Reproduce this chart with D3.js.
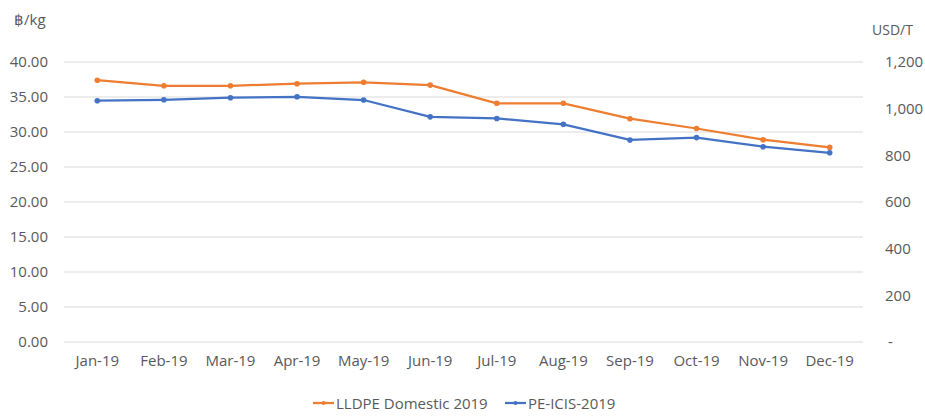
<!DOCTYPE html>
<html>
<head>
<meta charset="utf-8">
<script src="https://cdn.jsdelivr.net/npm/d3@7"></script>
<style>
  body { margin: 0; background: #fff; }
  text { font-family: "Open Sans", "Noto Sans", sans-serif; fill: #595959; }
</style>
</head>
<body>
<div id="chart"></div>
<script>
const months = ["Jan-19", "Feb-19", "Mar-19", "Apr-19", "May-19", "Jun-19",
    "Jul-19", "Aug-19", "Sep-19", "Oct-19", "Nov-19", "Dec-19"];
const lldpeValues = [37.4, 36.6, 36.6, 36.9, 37.1, 36.7, 34.1, 34.1, 31.9, 30.5, 28.9, 27.8];
const icisValues = [1034, 1038, 1047, 1051, 1037, 965, 958, 933, 866, 876, 837, 811];
const leftTicks = [0, 5, 10, 15, 20, 25, 30, 35, 40];
const rightTicks = [0, 200, 400, 600, 800, 1000, 1200];
const seriesNames = ["LLDPE Domestic 2019", "PE-ICIS-2019"];
const seriesColors = ["#ed7d31", "#4472c4"];

const W = 925, H = 416;
const margin = { top: 62, right: 62, bottom: 74, left: 64 };
const width = W - margin.left - margin.right,
    height = H - margin.top - margin.bottom;

const svg = d3.select("#chart").append("svg")
    .attr("width", W)
    .attr("height", H);

const g = svg.append("g")
    .attr("transform", `translate(${margin.left}, ${margin.top})`);

let x = d3.scaleBand()
    .domain(months)
    .range([0, width]);

let yLeft = d3.scaleLinear()
    .domain([0, 40])
    .range([height, 0]);

let yRight = d3.scaleLinear()
    .domain([0, 1200])
    .range([height, 0]);

// gridlines
g.append("g")
    .selectAll("line")
    .data(leftTicks)
    .join("line")
    .attr("x1", 0)
    .attr("x2", width)
    .attr("y1", d => yLeft(d))
    .attr("y2", d => yLeft(d))
    .attr("stroke", "#d9d9d9")
    .attr("stroke-width", 1);

// left axis
let leftAxis = g.append("g")
    .call(d3.axisLeft(yLeft).tickValues(leftTicks).tickFormat(d3.format(".2f")).tickSize(0).tickPadding(16));
leftAxis.select(".domain").remove();
leftAxis.selectAll("text").style("font-size", "15px");

// right axis
let rightAxis = g.append("g")
    .attr("transform", `translate(${width}, 0)`)
    .call(d3.axisRight(yRight).tickValues(rightTicks)
        .tickFormat(d => d === 0 ? "-" : d3.format(",")(d)).tickSize(0).tickPadding(22));
rightAxis.select(".domain").remove();
rightAxis.selectAll("text").style("font-size", "15px")
    .attr("dx", d => d === 0 ? 3 : 0);

// bottom axis
let bottomAxis = g.append("g")
    .attr("transform", `translate(0, ${height})`)
    .call(d3.axisBottom(x).tickSize(0).tickPadding(13));
bottomAxis.select(".domain").remove();
bottomAxis.selectAll("text").style("font-size", "15px");

// unit labels
svg.append("text")
    .attr("x", 14)
    .attr("y", 25)
    .style("font-size", "15px")
    .text("฿/kg");

svg.append("text")
    .attr("x", 872)
    .attr("y", 35)
    .style("font-size", "14px")
    .text("USD/T");

const cx = d => x(d) + x.bandwidth() / 2;

const seriesData = [
    months.map((m, i) => ({ m: m, y: yLeft(lldpeValues[i]) })),
    months.map((m, i) => ({ m: m, y: yRight(icisValues[i]) }))
];

seriesData.forEach((data, si) => {
    g.append("path")
        .datum(data)
        .attr("fill", "none")
        .attr("stroke", seriesColors[si])
        .attr("stroke-width", 2.25)
        .attr("stroke-linejoin", "round")
        .attr("d", d3.line().x(d => cx(d.m)).y(d => d.y));

    g.append("g")
        .selectAll("circle")
        .data(data)
        .join("circle")
        .attr("cx", d => cx(d.m))
        .attr("cy", d => d.y)
        .attr("r", 2.8)
        .attr("fill", seriesColors[si]);
});

// legend
const legendX = [313, 505];
const legend = svg.append("g");
seriesNames.forEach((name, i) => {
    legend.append("line")
        .attr("x1", legendX[i])
        .attr("x2", legendX[i] + 21)
        .attr("y1", 403)
        .attr("y2", 403)
        .attr("stroke", seriesColors[i])
        .attr("stroke-width", 2.25);
    legend.append("circle")
        .attr("cx", legendX[i] + 10.5)
        .attr("cy", 403)
        .attr("r", 2)
        .attr("fill", seriesColors[i]);
    legend.append("text")
        .attr("x", legendX[i] + 23)
        .attr("y", 408.5)
        .style("font-size", "15px")
        .text(name);
});
</script>
</body>
</html>
